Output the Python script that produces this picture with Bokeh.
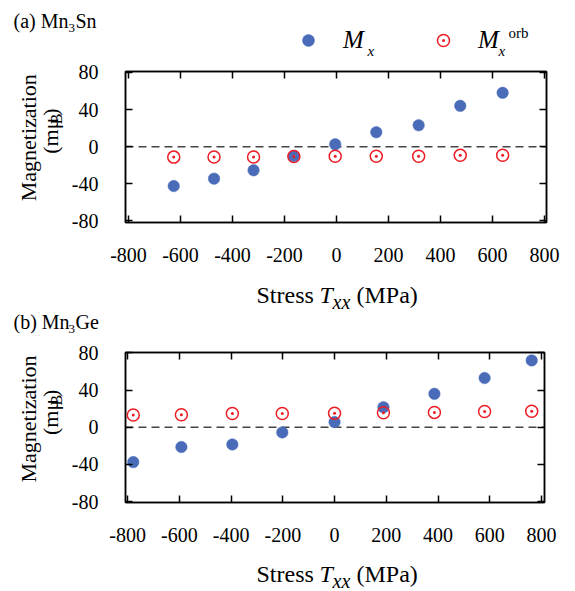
import math
from bokeh.plotting import figure
from bokeh.layouts import column, row
from bokeh.models import (Range1d, FixedTicker, LinearAxis, Span, Label, Legend,
                          LegendItem, PrintfTickFormatter)
from bokeh.embed import file_html
from bokeh.resources import INLINE

# ---------------- data ----------------
x_ticks = [-800, -600, -400, -200, 0, 200, 400, 600, 800]
y_ticks = [-80, -40, 0, 40, 80]

# (a) Mn3Sn
sn_stress = [-626, -471, -319, -164, -5, 153, 316, 476, 639]
sn_mx = [-42.5, -34.5, -25.5, -10.0, 2.5, 15.5, 23.0, 44.0, 58.0]
sn_morb = [-11.3, -11.2, -11.1, -10.6, -10.4, -10.4, -10.3, -9.4, -9.3]

# (b) Mn3Ge
ge_stress = [-778, -592, -395, -202, 0, 189, 386, 580, 762]
ge_mx = [-37.5, -21.3, -18.5, -5.5, 5.6, 21.5, 36.0, 53.0, 72.0]
ge_morb = [13.2, 13.4, 14.8, 14.8, 15.0, 15.6, 16.0, 17.0, 17.2]

FONT = "Liberation Serif"
BLUE = "#4a6cb8"
RED = "#ec1c24"
W = 575
YLAB_W = 68
SHIFT = 0.36  # em offset between requested and drawn baseline


def style_axis(ax, ticks, labels):
    ax.ticker = FixedTicker(ticks=ticks)
    ax.major_tick_in = 7
    ax.major_tick_out = 0
    ax.minor_tick_line_color = None
    ax.axis_line_color = "black"
    ax.axis_line_width = 1.5
    ax.major_tick_line_color = "black"
    ax.major_tick_line_width = 1.5
    if labels:
        ax.formatter = PrintfTickFormatter(format="%d")
        ax.major_label_text_font = FONT
        ax.major_label_text_font_size = "20px"
        ax.major_label_text_color = "black"
    else:
        ax.major_label_text_font_size = "1px"
        ax.major_label_text_alpha = 0
        ax.major_label_standoff = 0


def text_fig(w, h, x0, y0):
    """Blank figure whose data space equals page pixels (y downwards)."""
    f = figure(width=w, height=h, x_range=Range1d(x0, x0 + w), y_range=Range1d(y0 + h, y0),
               x_axis_type=None, y_axis_type=None, output_backend="svg",
               toolbar_location=None, min_border=0)
    f.outline_line_color = None
    return f


def put(f, x, y, text, size, style="normal", rotated=False, align="left"):
    d = SHIFT * size
    if rotated:
        x, angle = x - d, math.pi / 2
    else:
        y, angle = y - d, 0.0
    f.add_layout(Label(x=x, y=y, text=text, text_font=FONT, text_font_size=f"{size}px",
                       text_font_style=style, text_color="black", angle=angle,
                       text_align=align, text_baseline="alphabetic"))


def make_main(stress, mx, morb, row_top, row_h, frame, xr, yr):
    L, T, R, B = frame
    p = figure(width=W - YLAB_W, height=row_h, x_range=Range1d(*xr), y_range=Range1d(*yr),
               output_backend="svg", toolbar_location=None,
               min_border_left=L - YLAB_W, min_border_right=W - R,
               min_border_top=T - row_top, min_border_bottom=row_top + row_h - B)
    p.xgrid.visible = False
    p.ygrid.visible = False
    p.outline_line_color = "black"
    p.outline_line_width = 1.5
    top_ax = LinearAxis()
    right_ax = LinearAxis()
    p.add_layout(top_ax, "above")
    p.add_layout(right_ax, "right")
    style_axis(p.below[0], x_ticks, True)
    style_axis(p.left[0], y_ticks, True)
    style_axis(top_ax, x_ticks, False)
    style_axis(right_ax, y_ticks, False)
    p.below[0].major_label_standoff = 25
    p.left[0].major_label_standoff = 27

    p.add_layout(Span(location=0, dimension="width", line_color="#444444",
                      line_width=1.5, line_dash="8 5", level="underlay"))

    p.scatter(stress, mx, marker="circle", size=11.5, fill_color=BLUE,
              line_color=BLUE, line_width=0.5)
    p.scatter(stress, morb, marker="circle_dot", size=12, fill_color=None,
              line_color=RED, line_width=1.5)
    return p


def make_ylab(row_top, row_h, T):
    f = text_fig(YLAB_W, row_h, 0, row_top)
    put(f, 36, T + 85.5, "Magnetization", 22, rotated=True, align="center")
    put(f, 58, T + 82.5, "(m\u03bc", 22, rotated=True, align="center")
    put(f, 62, T + 58, "B", 16, rotated=True, align="center")
    put(f, 58, T + 48, ")", 22, rotated=True, align="center")
    return f


def make_xlab(y0, h, base):
    f = text_fig(W, h, 0, y0)
    put(f, 256, base, "Stress", 24)
    put(f, 319, base, "T", 24, style="italic")
    put(f, 332, base + 6, "xx", 20, style="italic")
    put(f, 356, base, "(MPa)", 24)
    return f


# ---------------- panel (a) ----------------
head_a = text_fig(W, 60, 0, 0)
put(head_a, 13, 28, "(a) Mn", 20)
put(head_a, 68, 32, "3", 13)
put(head_a, 75, 28, "Sn", 20)

nan = float("nan")
key_mx = head_a.scatter(x=[nan], y=[nan], marker="circle", size=11.5, fill_color=BLUE,
                        line_color=BLUE, line_width=0.5)
key_orb = head_a.scatter(x=[nan], y=[nan], marker="circle_dot", size=12, fill_color=None,
                         line_color=RED, line_width=1.5)
legend = Legend(items=[LegendItem(label="M", renderers=[key_mx]),
                       LegendItem(label="M", renderers=[key_orb])],
                orientation="horizontal", location=(293, 4.8),
                glyph_width=30, glyph_height=30, label_width=85,
                label_standoff=20, spacing=0, padding=0, margin=0,
                label_text_font=FONT, label_text_font_size="25px",
                label_text_font_style="italic", label_text_color="black",
                border_line_color=None, background_fill_alpha=0)
head_a.add_layout(legend)
put(head_a, 367, 56, "x", 15, style="italic")
put(head_a, 498, 56, "x", 15, style="italic")
put(head_a, 508, 38, "orb", 15)

main_a = make_main(sn_stress, sn_mx, sn_morb, 60, 220, (125, 71, 546, 222),
                   (-811.5, 807.7), (-81.8, 81.0))
ylab_a = make_ylab(60, 220, 71)
xlab_a = make_xlab(280, 32, 303)

# ---------------- panel (b) ----------------
head_b = text_fig(W, 28, 0, 312)
put(head_b, 13, 329, "(b) Mn", 20)
put(head_b, 68, 333, "3", 13)
put(head_b, 75, 329, "Ge", 20)

main_b = make_main(ge_stress, ge_mx, ge_morb, 340, 220, (123, 352, 544, 502),
                   (-808.0, 811.5), (-81.0, 80.5))
ylab_b = make_ylab(340, 220, 352)
xlab_b = make_xlab(560, 31, 582)

layout = column(head_a, row(ylab_a, main_a, spacing=0), xlab_a,
                head_b, row(ylab_b, main_b, spacing=0), xlab_b, spacing=0)
open("out.html", "w").write(file_html(layout, INLINE))
